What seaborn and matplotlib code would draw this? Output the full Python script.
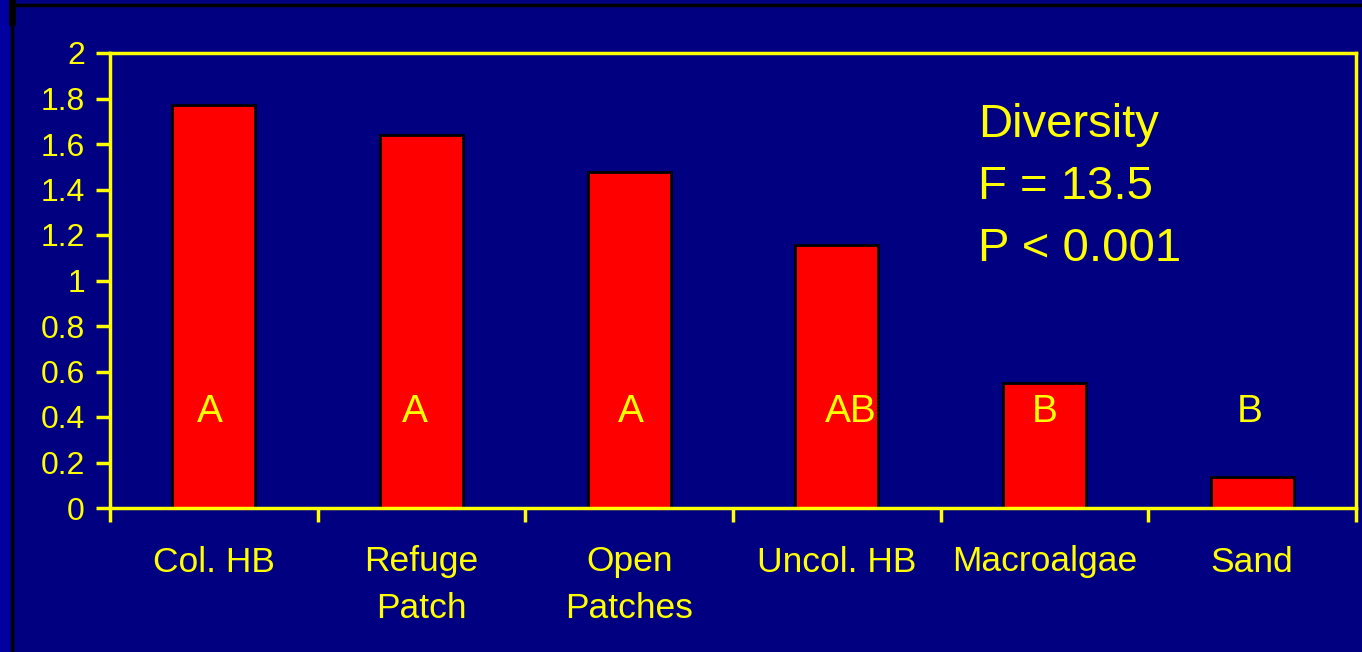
import matplotlib
matplotlib.use("Agg")
import matplotlib.pyplot as plt
from matplotlib.lines import Line2D
from matplotlib.ticker import FixedLocator
import seaborn as sns
import pandas as pd

# Mean diversity per habitat type
habitats = ["Col. HB", "Refuge\nPatch", "Open\nPatches", "Uncol. HB", "Macroalgae", "Sand"]
diversity = [1.77, 1.64, 1.475, 1.155, 0.55, 0.135]
groups = ["A", "A", "A", "AB", "B", "B"]
y_ticks = [0, 0.2, 0.4, 0.6, 0.8, 1, 1.2, 1.4, 1.6, 1.8, 2]
y_tick_labels = ["0", "0.2", "0.4", "0.6", "0.8", "1", "1.2", "1.4", "1.6", "1.8", "2"]
stats_lines = ["Diversity", "F = 13.5", "P < 0.001"]

NAVY = "#000080"
YELLOW = "#FFFF00"
RED = "#FF0000"

sns.set_style("white")
plt.rcParams["font.family"] = ["Liberation Sans", "DejaVu Sans"]

df = pd.DataFrame({"habitat": habitats, "diversity": diversity})

fig = plt.figure(figsize=(13.62, 6.52), dpi=100, facecolor=NAVY)
ax = fig.add_axes([110 / 1362, 1 - 508 / 652, 1246 / 1362, 455 / 652])
ax.set_facecolor(NAVY)

sns.barplot(data=df, x="habitat", y="diversity", color=RED, saturation=1,
            width=0.4, edgecolor="black", linewidth=2, ax=ax)

ax.set_xlim(-0.5, len(habitats) - 0.5)
ax.set_ylim(0, 2)
ax.set_xlabel("")
ax.set_ylabel("")

for s in ax.spines.values():
    s.set_color(YELLOW)
    s.set_linewidth(2.5)
    s.set_visible(True)

ax.set_yticks(y_ticks)
ax.set_yticklabels(y_tick_labels)
ax.tick_params(axis="y", direction="out", length=10, width=2.5, color=YELLOW,
               labelcolor=YELLOW, labelsize=23, pad=8, left=True)

# category labels sit between boundary ticks
ax.tick_params(axis="x", which="major", length=0, labelcolor=YELLOW,
               labelsize=25.5, pad=27, bottom=True)
for lbl in ax.get_xticklabels():
    lbl.set_linespacing(1.5)
ax.xaxis.set_minor_locator(FixedLocator([i - 0.5 for i in range(len(habitats) + 1)]))
ax.tick_params(axis="x", which="minor", direction="out", length=10, width=2.5,
               color=YELLOW, bottom=True)

# significance letters, nudged sideways within each bar
letter_shift = [-0.02, -0.03, 0.01, 0.065, 0.0, -0.01]
for i, g in enumerate(groups):
    ax.text(i + letter_shift[i], 0.42, g, ha="center", va="center",
            color=YELLOW, fontsize=28)

for k, line in enumerate(stats_lines):
    ax.text(0.697, 0.841 - k * 0.1355, line, transform=ax.transAxes,
            ha="left", va="center", color=YELLOW, fontsize=34)

# slide frame
fig.patches.append(plt.Rectangle((0, 0), 12 / 1362, 1, transform=fig.transFigure,
                                 facecolor="#0000A0", edgecolor="none", zorder=0))
fig.add_artist(Line2D([12 / 1362, 12 / 1362], [0, 1], color="black", lw=2.5))
fig.add_artist(Line2D([12 / 1362, 1], [1 - 4.5 / 652, 1 - 4.5 / 652], color="black", lw=2.5))
fig.add_artist(Line2D([12 / 1362, 12 / 1362], [1 - 23 / 652, 1], color="black", lw=5))

fig.savefig("out.png", dpi=100, facecolor=NAVY)
